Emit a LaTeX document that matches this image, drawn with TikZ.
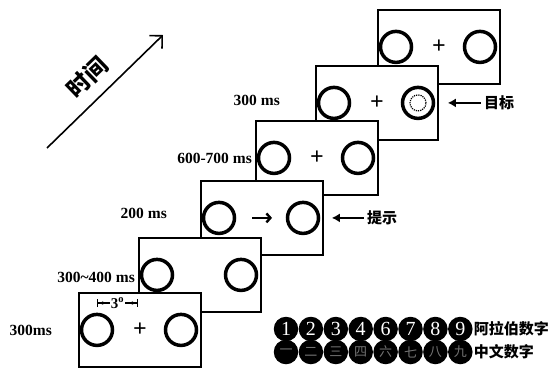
\documentclass[tikz,border=0pt]{standalone}
\usepackage{fontspec}
\setmainfont{Liberation Serif}
\newfontfamily\cjk{Noto Sans CJK SC}
\usetikzlibrary{arrows.meta,positioning}
\tikzset{
  frame/.style={draw, fill=white, line width=1.8pt, minimum width=122pt, minimum height=74pt, anchor=north west, inner sep=0pt},
  ring/.style={circle, draw, line width=3.5pt, minimum size=31pt, inner sep=0pt},
  plus/.style={font=\fontsize{24}{24}\selectfont\bfseries, inner sep=0pt},
  lbl/.style={font=\fontsize{15.5}{16}\selectfont\bfseries, anchor=east, inner sep=0pt},
  hz/.style={font=\fontsize{15}{15}\selectfont\cjk\bfseries, inner sep=0pt},
  numdot/.style={circle, fill=black, minimum size=24.5pt, inner sep=0pt, text=white, font=\fontsize{20}{20}\selectfont},
  ptr/.style={line width=2.4pt, -{Latex[length=8pt,width=9pt]}, shorten <=3pt},
}
\begin{document}
\begin{tikzpicture}[x=1pt, y=-1pt]
  \useasboundingbox (0,0) rectangle (551,368);
  % time axis
  \coordinate (t0) at (47,148);
  \coordinate (t1) at (163,35);
  \draw[line width=1.6pt, -{Straight Barb[length=9pt,width=18pt]}] (t0) -- (t1);
  \node[hz, font=\fontsize{23}{23}\selectfont\cjk\bfseries, rotate=44] (tl) at (87,77) {时间};
  % screens, back to front
  \foreach \i/\x/\y in {6/377/9, 5/315/65, 4/255/120, 3/200/180, 2/138/237, 1/78/292} {
    \node[frame] (f\i) at (\x,\y) {};
    \node[ring] (l\i) at ([xshift=19pt]f\i.west) {};
    \node[ring] (r\i) at ([xshift=103pt]f\i.west) {};
  }
  \foreach \i in {1,4,5,6}
    \node[plus] (p\i) at ([xshift=62pt]f\i.west) {+};
  \draw[line width=2.4pt, -{Straight Barb[length=4pt,width=9pt]}] ([xshift=52pt]f3.west) -- ([xshift=72pt]f3.west);
  \draw[densely dotted, line width=1.2pt] (r5) circle[radius=8pt];
  \draw[{Bar[width=8pt]Latex[length=5pt]}-{Latex[length=5pt]Bar[width=8pt]}, line width=1.2pt]
    ([shift={(19pt,-11pt)}]f1.north west) -- ([shift={(60pt,-11pt)}]f1.north west)
    node[midway, fill=white, inner sep=1pt, font=\fontsize{15}{15}\selectfont\bfseries] (deg) {3\textsuperscript{o}};
  % durations
  \node[lbl] (d1) at (52,330) {300ms};
  \node[lbl] (d2) at (135,277) {300\textasciitilde400 ms};
  \node[lbl] (d3) at (167,213) {200 ms};
  \node[lbl] (d4) at (252,158) {600-700 ms};
  \node[lbl] (d5) at (280,100) {300 ms};
  % pointers
  \node[hz] (cue) [right=43pt of f3] {提示};
  \draw[ptr] (cue.west) -- ([xshift=8pt]f3.east);
  \node[hz] (tgt) [right=45pt of f5] {目标};
  \draw[ptr] (tgt.west) -- ([xshift=9pt]f5.east);
  % digit sets
  \foreach \d [count=\k from 0] in {1,2,3,4,6,7,8,9}
    \node[numdot] (a\k) at ({286+24.9*\k},329) {\d};
  \foreach \d [count=\k from 0] in {一,二,三,四,六,七,八,九}
    \node[numdot, text=black!55, font=\fontsize{13}{13}\selectfont\cjk] (c\k) at ({286+24.9*\k},352) {\d};
  \node[hz] (an) [right=1pt of a7] {阿拉伯数字};
  \node[hz] (cn) [right=1pt of c7] {中文数字};
\end{tikzpicture}
\end{document}
